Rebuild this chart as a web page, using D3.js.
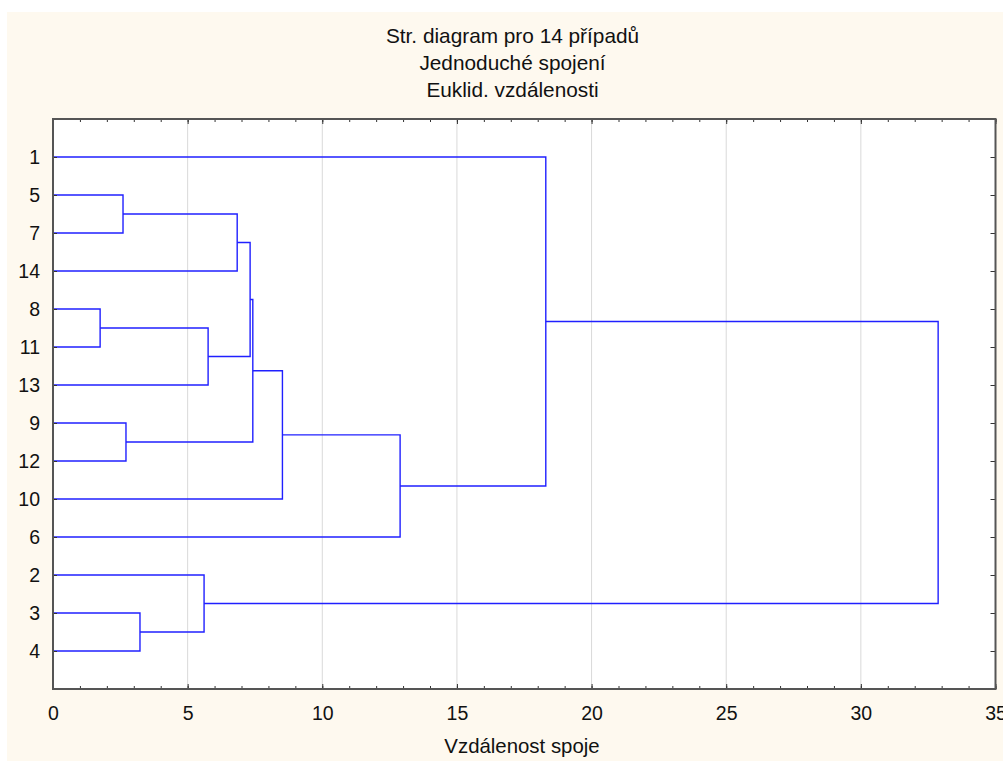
<!DOCTYPE html>
<html>
<head>
<meta charset="utf-8">
<script src="https://cdn.jsdelivr.net/npm/d3@7"></script>
<style>
  html, body { margin: 0; padding: 0; background: #ffffff; }
  svg { display: block; }
  text { font-family: "Liberation Sans", Arial, sans-serif; fill: #111; }
</style>
</head>
<body>
<svg id="chart" width="1003" height="761"></svg>
<script>
// ---- data ----
const titleLines = ["Str. diagram pro 14 případů", "Jednoduché spojení", "Euklid. vzdálenosti"];
const xAxisLabel = "Vzdálenost spoje";
const leafOrder = ["1", "5", "7", "14", "8", "11", "13", "9", "12", "10", "6", "2", "3", "4"];
// merges (single linkage): cluster C<k> is formed by mergeA[k-1] + mergeB[k-1] at mergeHeight[k-1]
const mergeA      = ["8",  "5",  "9",  "3",  "2",  "C1", "C2", "C7", "C8", "C9", "C10", "1",   "C12"];
const mergeB      = ["11", "7",  "12", "4",  "C4", "13", "14", "C6", "C3", "10", "6",   "C11", "C5"];
const mergeHeight = [1.75, 2.60, 2.71, 3.23, 5.61, 5.76, 6.84, 7.32, 7.42, 8.52, 12.89, 18.30, 32.87];
const xTicks = [0, 5, 10, 15, 20, 25, 30, 35];
const xMinorTicks = d3.range(0, 36, 1);

// ---- layout ----
const svg = d3.select("#chart");
const W = 1003, H = 761;
const plot = { left: 53, right: 995.5, top: 119, bottom: 689 };

svg.append("rect").attr("x", 7).attr("y", 12).attr("width", W - 7).attr("height", H - 12)
  .attr("fill", "#fef9ef");
svg.append("rect").attr("x", plot.left).attr("y", plot.top)
  .attr("width", plot.right - plot.left).attr("height", plot.bottom - plot.top)
  .attr("fill", "#ffffff");

const x = d3.scaleLinear().domain([0, 35]).range([plot.left, plot.right]);
const y = d3.scaleLinear().domain([0, leafOrder.length + 1]).range([plot.top, plot.bottom]);

// gridlines
svg.append("g").selectAll("line").data(xTicks.filter(t => t > 0 && t < 35)).join("line")
  .attr("x1", d => x(d)).attr("x2", d => x(d))
  .attr("y1", plot.top).attr("y2", plot.bottom)
  .attr("stroke", "#d9d9d9").attr("stroke-width", 1);

// ---- dendrogram geometry ----
const pos = {};
leafOrder.forEach((id, i) => { pos[id] = { h: 0, y: y(i + 1) }; });
const links = [];
mergeHeight.forEach((h, k) => {
  const a = pos[mergeA[k]], b = pos[mergeB[k]];
  links.push({ a, b, h });
  pos["C" + (k + 1)] = { h, y: (a.y + b.y) / 2 };
});

svg.append("g").selectAll("path").data(links).join("path")
  .attr("d", d => `M${x(d.a.h)},${d.a.y}H${x(d.h)}V${d.b.y}H${x(d.b.h)}`)
  .attr("fill", "none").attr("stroke", "#2020ff").attr("stroke-width", 1.4);

// ---- axes ----
const axisColor = "#555";
function styleAxis(g) {
  g.select(".domain").remove();
  g.selectAll(".tick line").attr("stroke", "#333").attr("stroke-width", 1);
  g.selectAll("text").attr("font-size", 19.5).attr("fill", "#111")
    .attr("font-family", "'Liberation Sans', Arial, sans-serif");
}

// bottom minor ticks
svg.append("g").attr("transform", `translate(0,${plot.bottom})`)
  .call(d3.axisBottom(x).tickValues(xMinorTicks).tickSizeInner(-3).tickSizeOuter(0).tickFormat(""))
  .call(styleAxis);
// bottom major ticks with labels
svg.append("g").attr("transform", `translate(0,${plot.bottom})`)
  .call(d3.axisBottom(x).tickValues(xTicks).tickSizeInner(-5).tickSizeOuter(0).tickPadding(17).tickFormat(d3.format("d")))
  .call(styleAxis);
// top ticks
svg.append("g").attr("transform", `translate(0,${plot.top})`)
  .call(d3.axisTop(x).tickValues(xMinorTicks).tickSizeInner(-3).tickSizeOuter(0).tickFormat(""))
  .call(styleAxis);
svg.append("g").attr("transform", `translate(0,${plot.top})`)
  .call(d3.axisTop(x).tickValues(xTicks).tickSizeInner(-5).tickSizeOuter(0).tickFormat(""))
  .call(styleAxis);

// left axis with leaf labels
const yTickVals = leafOrder.map((d, i) => i + 1);
svg.append("g").attr("transform", `translate(${plot.left},0)`)
  .call(d3.axisLeft(y).tickValues(yTickVals).tickSizeInner(-4).tickSizeOuter(0).tickPadding(13)
    .tickFormat(d => leafOrder[d - 1]))
  .call(styleAxis);
// right axis ticks
svg.append("g").attr("transform", `translate(${plot.right},0)`)
  .call(d3.axisRight(y).tickValues(yTickVals).tickSizeInner(-5).tickSizeOuter(0).tickFormat(""))
  .call(styleAxis);

// frame
svg.append("rect").attr("x", plot.left).attr("y", plot.top)
  .attr("width", plot.right - plot.left).attr("height", plot.bottom - plot.top)
  .attr("fill", "none").attr("stroke", axisColor).attr("stroke-width", 2);

// ---- titles ----
const tg = svg.append("g");
titleLines.forEach((t, i) => {
  tg.append("text").attr("x", 512.5).attr("y", 42.5 + i * 27.3)
    .attr("text-anchor", "middle").attr("font-size", 20.8).text(t);
});
svg.append("text").attr("x", 522).attr("y", 753)
  .attr("text-anchor", "middle").attr("font-size", 20.4).text(xAxisLabel);
</script>
</body>
</html>
